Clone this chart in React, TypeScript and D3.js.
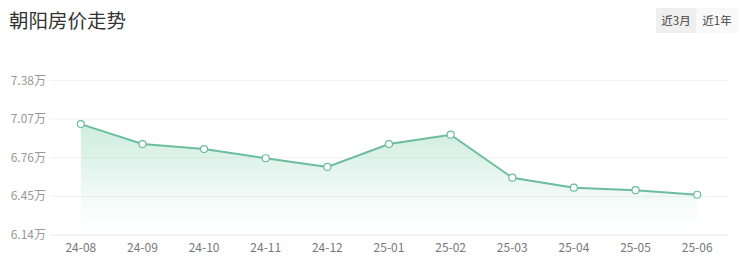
import React from "react";
import * as d3 from "d3";

const title = "朝阳房价走势";
const months = ["24-08", "24-09", "24-10", "24-11", "24-12", "25-01", "25-02", "25-03", "25-04", "25-05", "25-06"];
const prices = [7.03, 6.87, 6.83, 6.756, 6.686, 6.87, 6.945, 6.6, 6.52, 6.5, 6.463];
const yTicks = [6.14, 6.45, 6.76, 7.07, 7.38];
const buttons = ["近3月", "近1年"];

const W = 740;
const H = 263;
const left = 50;
const right = 728;
const top = 80.5;
const bottom = 235;
const font = "'Noto Sans CJK SC', 'Noto Sans', sans-serif";

export default function App() {
  const x = d3.scaleBand<string>().domain(months).range([left, right]);
  const y = d3.scaleLinear().domain([6.14, 7.38]).range([bottom, top]);
  const cx = (m: string) => (x(m) as number) + x.bandwidth() / 2;
  const pts = months.map((m, i) => [cx(m), y(prices[i])] as [number, number]);
  const line = d3.line<[number, number]>().x((d) => d[0]).y((d) => d[1])(pts) || "";
  const area =
    d3
      .area<[number, number]>()
      .x((d) => d[0])
      .y0(bottom)
      .y1((d) => d[1])(pts) || "";

  return (
    <svg
      width={W}
      height={H}
      style={{ position: "absolute", left: 0, top: 0, background: "#fff" }}
      fontFamily={font}
    >
      <defs>
        <linearGradient id="ag" x1="0" y1="0" x2="0" y2="1" gradientUnits="objectBoundingBox">
          <stop offset="0" stopColor="#5cc29a" stopOpacity={0.3} />
          <stop offset="0.85" stopColor="#5cc29a" stopOpacity={0.02} />
          <stop offset="1" stopColor="#5cc29a" stopOpacity={0} />
        </linearGradient>
      </defs>
      <text x={9} y={28} fontSize={19.5} fill="#333">
        {title}
      </text>
      <rect x={656} y={8} width={82} height={25} fill="#f9f9f9" />
      <rect x={656} y={8} width={40} height={25} fill="#efefef" />
      {buttons.map((b, i) => (
        <text key={b} x={676 + i * 41} y={25} fontSize={11.5} fill="#444" textAnchor="middle">
          {b}
        </text>
      ))}
      {yTicks.map((t) => (
        <g key={t}>
          <line x1={left} x2={right} y1={y(t)} y2={y(t)} stroke={t === 6.14 ? "#e8e8e8" : "#f2f2f2"} strokeWidth={1} />
          <text x={46} y={y(t) + 4} fontSize={12} fill="#999" textAnchor="end">
            {t.toFixed(2)}万
          </text>
        </g>
      ))}
      {months.map((m) => (
        <text key={m} x={cx(m)} y={252} fontSize={12} fill="#777" textAnchor="middle">
          {m}
        </text>
      ))}
      <path d={area} fill="url(#ag)" />
      <path d={line} fill="none" stroke="#6cbd9c" strokeWidth={2} />
      {pts.map((p, i) => (
        <circle key={i} cx={p[0]} cy={p[1]} r={3.5} fill="#fff" stroke="#6cbd9c" strokeWidth={1.2} />
      ))}
    </svg>
  );
}
